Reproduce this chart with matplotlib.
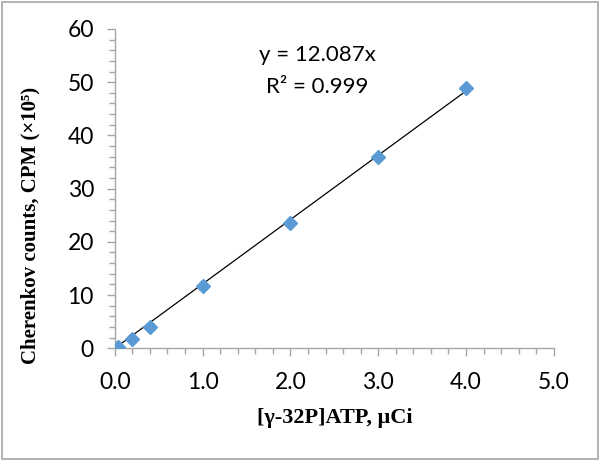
import matplotlib.pyplot as plt
from matplotlib.patches import Rectangle
from matplotlib.ticker import MultipleLocator, FormatStrFormatter

# data
activity = [0.04, 0.2, 0.4, 1.0, 2.0, 3.0, 4.0]          # uCi
counts = [0.3, 1.75, 4.05, 11.75, 23.55, 36.0, 48.95]    # CPM x 10^5
slope = 12.087
r2 = 0.999

grey = "#A6A6A6"
blue = "#5B9BD5"

fig = plt.figure(figsize=(6, 4.61), dpi=100)
ax = fig.add_axes([0.1913, 0.2445, 0.7317, 0.6926])

# trendline through origin
fit_x = [min(activity), max(activity)]
fit_y = [slope * v for v in fit_x]
ax.plot(fit_x, fit_y, color="black", lw=0.9, zorder=2)
ax.plot(activity, counts, linestyle="none", marker="D", ms=6.8,
        color=blue, markeredgecolor=blue, zorder=3)

ax.set_xlim(0, 5)
ax.set_ylim(0, 60)
ax.xaxis.set_major_locator(MultipleLocator(1))
ax.xaxis.set_minor_locator(MultipleLocator(0.2))
ax.yaxis.set_major_locator(MultipleLocator(10))
ax.yaxis.set_minor_locator(MultipleLocator(2))
ax.xaxis.set_major_formatter(FormatStrFormatter("%.1f"))

for s in ["top", "right"]:
    ax.spines[s].set_visible(False)
for s in ["left", "bottom"]:
    ax.spines[s].set_color(grey)
    ax.spines[s].set_linewidth(1.0)

ax.tick_params(which="both", direction="out", color=grey, width=1.0)
ax.tick_params(which="major", length=6)
ax.tick_params(which="minor", length=4.5)
ax.tick_params(axis="x", which="major", pad=11, labelsize=16.5)
ax.tick_params(axis="y", which="major", pad=9, labelsize=16.5)
for lab in ax.get_xticklabels() + ax.get_yticklabels():
    lab.set_fontfamily("Lato")

ax.set_xlabel("[\u03b3-32P]ATP, \u03bcCi", fontfamily="Liberation Serif",
              fontweight="bold", fontsize=16)
ax.set_ylabel("Cherenkov counts, CPM (\u00d710\u2075)", fontfamily="Liberation Serif",
              fontweight="bold", fontsize=15)
ax.yaxis.set_label_coords(-0.17, 0.385)
ax.xaxis.set_label_coords(0.502, -0.186)

ax.text(0.462, 0.9186, "y = %.3fx" % slope, transform=ax.transAxes,
        ha="center", va="center", fontsize=16, fontfamily="Lato")
ax.text(0.462, 0.819, "R\u00b2 = %.3f" % r2, transform=ax.transAxes,
        ha="center", va="center", fontsize=16, fontfamily="Lato")

# outer chart frame
fig.patches.append(Rectangle((0.004, 0.004), 0.992, 0.992, transform=fig.transFigure,
                             fill=False, edgecolor=grey, lw=1.2))

fig.savefig("out.png", dpi=100)
